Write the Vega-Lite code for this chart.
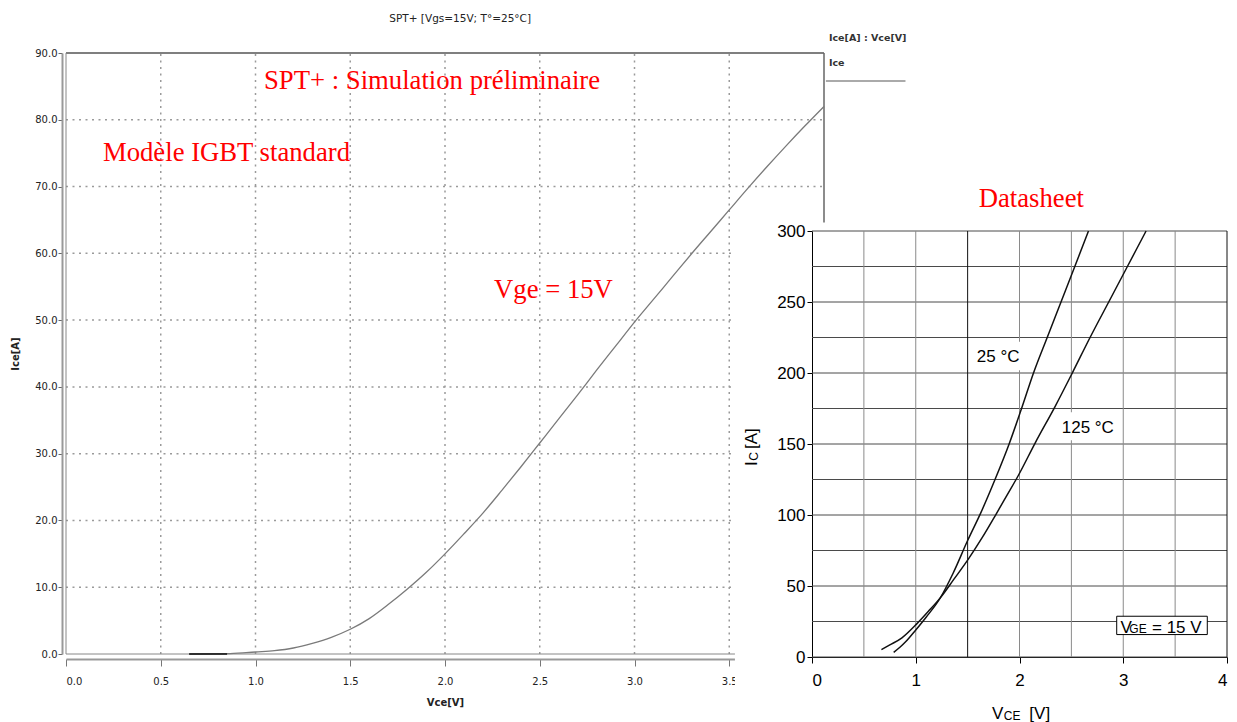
{
  "$schema": "https://vega.github.io/schema/vega-lite/v6.json",
  "background": "white",
  "padding": {"left": 10, "top": 14, "right": 0, "bottom": 0},
  "config": {
    "view": {"stroke": null},
    "font": "Liberation Sans",
    "axis": {"grid": false}
  },
  "bounds": "flush",
  "spacing": 0,
  "hconcat": [
    {
      "width": 746,
      "height": 601,
      "layer": [
        {
          "data": {"values": [{"I": 10}, {"I": 20}, {"I": 30}, {"I": 40}, {"I": 50}, {"I": 60}, {"I": 70}, {"I": 80}]},
          "mark": {"type": "rule", "stroke": "#9a9a9a", "strokeWidth": 1.5, "strokeDash": [2, 4.5]},
          "encoding": {
            "y": {"field": "I", "type": "quantitative", "scale": {"domain": [0, 90], "nice": false},
              "axis": {"title": "Ice[A]", "values": [0, 10, 20, 30, 40, 50, 60, 70, 80, 90], "format": ".1f", "offset": 4, "tickSize": 4, "tickColor": "#666", "domainColor": "#999", "domainWidth": 2, "labelFont": "DejaVu Sans", "labelFontSize": 10, "labelColor": "#222", "labelPadding": 1, "titleFont": "DejaVu Sans", "titleFontSize": 10, "titleFontWeight": "bold", "titleColor": "#222", "titlePadding": 14}},
            "x": {"datum": 0, "type": "quantitative", "scale": {"domain": [0, 4], "range": [0, 758], "nice": false},
              "axis": {"title": "Vce[V]", "values": [0, 0.5, 1, 1.5, 2, 2.5, 3, 3.5], "format": ".1f", "offset": 5, "tickSize": 7, "tickColor": "#777", "domainColor": "#999", "domainWidth": 2, "labelFont": "DejaVu Sans", "labelFontSize": 10, "labelColor": "#222", "labelPadding": 10, "titleFont": "DejaVu Sans", "titleFontSize": 10, "titleFontWeight": "bold", "titleColor": "#222", "titlePadding": 11}},
            "x2": {"datum": 4}
          }
        },
        {
          "data": {"values": [{"V": 0.5}, {"V": 1}, {"V": 1.5}, {"V": 2}, {"V": 2.5}, {"V": 3}, {"V": 3.5}]},
          "mark": {"type": "rule", "stroke": "#9a9a9a", "strokeWidth": 1.5, "strokeDash": [2, 4.5]},
          "encoding": {
            "x": {"field": "V", "type": "quantitative"},
            "y": {"datum": 0},
            "y2": {"datum": 90}
          }
        },
        {
          "data": {"values": [{"edge": "top"}]},
          "mark": {"type": "rule", "stroke": "#555", "strokeWidth": 1.5},
          "encoding": {"y": {"datum": 90}, "x": {"datum": 0}, "x2": {"datum": 4}}
        },
        {
          "data": {"values": [{"edge": "bottom"}]},
          "mark": {"type": "rule", "stroke": "#888", "strokeWidth": 1},
          "encoding": {"y": {"datum": 0}, "x": {"datum": 0}, "x2": {"datum": 4}}
        },
        {
          "data": {"values": [{"edge": "right"}]},
          "mark": {"type": "rule", "stroke": "#666", "strokeWidth": 1.5},
          "encoding": {"x": {"datum": 4}, "y": {"datum": 0}, "y2": {"datum": 90}}
        },
        {
          "data": {"values": [{"edge": "left"}]},
          "mark": {"type": "rule", "stroke": "#888", "strokeWidth": 1},
          "encoding": {"x": {"datum": 0}, "y": {"datum": 0}, "y2": {"datum": 90}}
        },
        {
          "data": {"values": [
            {"V": 0.65, "I": 0}, {"V": 0.85, "I": 0.05}, {"V": 0.95, "I": 0.2}, {"V": 1.0, "I": 0.3},
            {"V": 1.1, "I": 0.5}, {"V": 1.2, "I": 0.9}, {"V": 1.3, "I": 1.6}, {"V": 1.4, "I": 2.5},
            {"V": 1.5, "I": 3.7}, {"V": 1.6, "I": 5.3}, {"V": 1.7, "I": 7.4}, {"V": 1.8, "I": 9.7},
            {"V": 1.9, "I": 12.2}, {"V": 2.0, "I": 15.0}, {"V": 2.1, "I": 18.0}, {"V": 2.2, "I": 21.1},
            {"V": 2.3, "I": 24.5}, {"V": 2.4, "I": 28.0}, {"V": 2.5, "I": 31.6}, {"V": 2.6, "I": 35.2},
            {"V": 2.7, "I": 38.8}, {"V": 2.8, "I": 42.5}, {"V": 2.9, "I": 46.1}, {"V": 3.0, "I": 49.7},
            {"V": 3.1, "I": 53.1}, {"V": 3.2, "I": 56.5}, {"V": 3.3, "I": 59.9}, {"V": 3.4, "I": 63.2},
            {"V": 3.5, "I": 66.5}, {"V": 3.6, "I": 69.8}, {"V": 3.7, "I": 73.0}, {"V": 3.8, "I": 76.1},
            {"V": 3.9, "I": 79.1}, {"V": 4.0, "I": 82.0}
          ]},
          "mark": {"type": "line", "stroke": "#7a7a7a", "strokeWidth": 1.3, "interpolate": "monotone"},
          "encoding": {
            "x": {"field": "V", "type": "quantitative"},
            "y": {"field": "I", "type": "quantitative"}
          }
        },
        {
          "data": {"values": [{"V": 0.65, "I": 0}, {"V": 0.85, "I": 0}]},
          "mark": {"type": "line", "stroke": "#111", "strokeWidth": 1.5},
          "encoding": {
            "x": {"field": "V", "type": "quantitative"},
            "y": {"field": "I", "type": "quantitative"}
          }
        },
        {
          "data": {"values": [{"V0": 3.53, "V1": 4.3, "I0": -7, "I1": 64.6}]},
          "mark": {"type": "rect", "fill": "white", "stroke": null},
          "encoding": {
            "x": {"field": "V0", "type": "quantitative"},
            "x2": {"field": "V1"},
            "y": {"field": "I0", "type": "quantitative"},
            "y2": {"field": "I1"}
          }
        },
        {
          "data": {"values": [
            {"V": 1.045, "I": 84.6, "t": "SPT+ : Simulation préliminaire"},
            {"V": 0.195, "I": 73.9, "t": "Modèle IGBT standard"},
            {"V": 2.259, "I": 53.3, "t": "Vge = 15V"}
          ]},
          "mark": {"type": "text", "font": "Liberation Serif", "fontSize": 26.7, "color": "#ff0000", "align": "left", "baseline": "alphabetic"},
          "encoding": {
            "x": {"field": "V", "type": "quantitative"},
            "y": {"field": "I", "type": "quantitative"},
            "text": {"field": "t"}
          }
        },
        {
          "data": {"values": [{"V": 2.08, "I": 94.6, "t": "SPT+ [Vgs=15V; T°=25°C]"}]},
          "mark": {"type": "text", "font": "DejaVu Sans", "fontSize": 10.5, "color": "#222", "align": "center", "baseline": "alphabetic"},
          "encoding": {
            "x": {"field": "V", "type": "quantitative"},
            "y": {"field": "I", "type": "quantitative"},
            "text": {"field": "t"}
          }
        },
        {
          "data": {"values": [
            {"V": 4.026, "I": 91.8, "t": "Ice[A] : Vce[V]"},
            {"V": 4.026, "I": 88.0, "t": "Ice"}
          ]},
          "mark": {"type": "text", "font": "DejaVu Sans", "fontSize": 9.5, "fontWeight": "bold", "color": "#333", "align": "left", "baseline": "alphabetic"},
          "encoding": {
            "x": {"field": "V", "type": "quantitative"},
            "y": {"field": "I", "type": "quantitative"},
            "text": {"field": "t"}
          }
        },
        {
          "data": {"values": [{"V0": 4.01, "V1": 4.43, "I": 85.8}]},
          "mark": {"type": "rule", "stroke": "#aaa", "strokeWidth": 2},
          "encoding": {
            "x": {"field": "V0", "type": "quantitative"},
            "x2": {"field": "V1"},
            "y": {"field": "I", "type": "quantitative"}
          }
        }
      ]
    },
    {
      "width": 415,
      "height": 604,
      "layer": [
        {
          "data": {"values": [{"I": 0}, {"I": 25}, {"I": 50}, {"I": 75}, {"I": 100}, {"I": 125}, {"I": 150}, {"I": 175}, {"I": 200}, {"I": 225}, {"I": 250}, {"I": 275}, {"I": 300}]},
          "mark": {"type": "rule", "stroke": "#4a4a4a", "strokeWidth": 1},
          "encoding": {
            "y": {"field": "I", "type": "quantitative", "scale": {"domain": [0, 300], "range": [604, 178], "nice": false},
              "axis": {"title": null, "values": [0, 50, 100, 150, 200, 250, 300], "format": "d", "tickSize": 5, "tickColor": "black", "domainColor": "black", "labelFontSize": 17, "labelColor": "black", "labelPadding": 2}},
            "x": {"datum": 0, "type": "quantitative", "scale": {"domain": [0, 4], "nice": false},
              "axis": {"title": null, "values": [0, 1, 2, 3, 4], "format": "d", "tickSize": 6, "tickColor": "black", "domainColor": "black", "labelFontSize": 17, "labelColor": "black", "labelPadding": 9}},
            "x2": {"datum": 4}
          }
        },
        {
          "data": {"values": [{"V": 0.5}, {"V": 1}, {"V": 1.5}, {"V": 2}, {"V": 2.5}, {"V": 3}, {"V": 3.5}, {"V": 4}]},
          "mark": {"type": "rule", "strokeWidth": 1},
          "encoding": {
            "x": {"field": "V", "type": "quantitative"},
            "y": {"datum": 0},
            "y2": {"datum": 300},
            "stroke": {"condition": {"test": "datum.V === 1.5 || datum.V === 4", "value": "#111"}, "value": "#8a8a8a"}
          }
        },
        {
          "data": {"values": [
            {"T": "25 °C", "V": 0.787, "I": 3.3}, {"T": "25 °C", "V": 0.85, "I": 7}, {"T": "25 °C", "V": 0.9, "I": 10.5},
            {"T": "25 °C", "V": 1.0, "I": 19}, {"T": "25 °C", "V": 1.1, "I": 28}, {"T": "25 °C", "V": 1.238, "I": 41.8},
            {"T": "25 °C", "V": 1.36, "I": 59}, {"T": "25 °C", "V": 1.5, "I": 82}, {"T": "25 °C", "V": 1.63, "I": 102},
            {"T": "25 °C", "V": 1.77, "I": 126}, {"T": "25 °C", "V": 1.9, "I": 150}, {"T": "25 °C", "V": 2.02, "I": 175},
            {"T": "25 °C", "V": 2.135, "I": 200}, {"T": "25 °C", "V": 2.267, "I": 225}, {"T": "25 °C", "V": 2.4, "I": 250},
            {"T": "25 °C", "V": 2.533, "I": 275}, {"T": "25 °C", "V": 2.665, "I": 300},
            {"T": "125 °C", "V": 0.669, "I": 5.2}, {"T": "125 °C", "V": 0.75, "I": 8.5}, {"T": "125 °C", "V": 0.867, "I": 13.5},
            {"T": "125 °C", "V": 1.012, "I": 23.5}, {"T": "125 °C", "V": 1.12, "I": 32}, {"T": "125 °C", "V": 1.238, "I": 41.8},
            {"T": "125 °C", "V": 1.37, "I": 55}, {"T": "125 °C", "V": 1.51, "I": 69.3}, {"T": "125 °C", "V": 1.64, "I": 84},
            {"T": "125 °C", "V": 1.768, "I": 99.8}, {"T": "125 °C", "V": 1.88, "I": 114}, {"T": "125 °C", "V": 1.99, "I": 128},
            {"T": "125 °C", "V": 2.153, "I": 151}, {"T": "125 °C", "V": 2.34, "I": 176}, {"T": "125 °C", "V": 2.506, "I": 199.6},
            {"T": "125 °C", "V": 2.68, "I": 225}, {"T": "125 °C", "V": 2.86, "I": 250}, {"T": "125 °C", "V": 3.04, "I": 275},
            {"T": "125 °C", "V": 3.22, "I": 300}
          ]},
          "mark": {"type": "line", "stroke": "#111", "strokeWidth": 1.5, "interpolate": "monotone"},
          "encoding": {
            "x": {"field": "V", "type": "quantitative"},
            "y": {"field": "I", "type": "quantitative"},
            "detail": {"field": "T"}
          }
        },
        {
          "data": {"values": [
            {"V0": 1.56, "V1": 2.05, "I0": 202, "I1": 222},
            {"V0": 2.378, "V1": 2.93, "I0": 152.6, "I1": 172.3}
          ]},
          "mark": {"type": "rect", "fill": "white", "stroke": null},
          "encoding": {
            "x": {"field": "V0", "type": "quantitative"},
            "x2": {"field": "V1"},
            "y": {"field": "I0", "type": "quantitative"},
            "y2": {"field": "I1"}
          }
        },
        {
          "data": {"values": [
            {"V": 1.588, "I": 207.7, "t": "25 °C"},
            {"V": 2.407, "I": 157.7, "t": "125 °C"}
          ]},
          "mark": {"type": "text", "fontSize": 17, "color": "black", "align": "left", "baseline": "alphabetic"},
          "encoding": {
            "x": {"field": "V", "type": "quantitative"},
            "y": {"field": "I", "type": "quantitative"},
            "text": {"field": "t"}
          }
        },
        {
          "data": {"values": [{"V0": 2.937, "V1": 3.81, "I0": 15.8, "I1": 28.7}]},
          "mark": {"type": "rect", "fill": "white", "stroke": "black", "strokeWidth": 1},
          "encoding": {
            "x": {"field": "V0", "type": "quantitative"},
            "x2": {"field": "V1"},
            "y": {"field": "I0", "type": "quantitative"},
            "y2": {"field": "I1"}
          }
        },
        {
          "data": {"values": [
            {"V": 2.973, "I": 17.2, "t": "V"},
            {"V": 3.277, "I": 17.2, "t": "= 15 V"},
            {"V": 1.735, "I": -43.7, "t": "V"},
            {"V": 2.095, "I": -43.7, "t": "[V]"}
          ]},
          "mark": {"type": "text", "fontSize": 17, "color": "black", "align": "left", "baseline": "alphabetic"},
          "encoding": {
            "x": {"field": "V", "type": "quantitative"},
            "y": {"field": "I", "type": "quantitative"},
            "text": {"field": "t"}
          }
        },
        {
          "data": {"values": [
            {"V": 3.059, "I": 16.6, "t": "GE"},
            {"V": 1.848, "I": -44.4, "t": "CE"}
          ]},
          "mark": {"type": "text", "fontSize": 12, "color": "black", "align": "left", "baseline": "alphabetic"},
          "encoding": {
            "x": {"field": "V", "type": "quantitative"},
            "y": {"field": "I", "type": "quantitative"},
            "text": {"field": "t"}
          }
        },
        {
          "data": {"values": [
            {"V": -0.53, "I": 134.5, "t": "I"},
            {"V": -0.53, "I": 146.5, "t": "[A]"}
          ]},
          "mark": {"type": "text", "fontSize": 17, "color": "black", "align": "left", "baseline": "alphabetic", "angle": 270},
          "encoding": {
            "x": {"field": "V", "type": "quantitative"},
            "y": {"field": "I", "type": "quantitative"},
            "text": {"field": "t"}
          }
        },
        {
          "data": {"values": [
            {"V": -0.52, "I": 138.2, "t": "C"}
          ]},
          "mark": {"type": "text", "fontSize": 12, "color": "black", "align": "left", "baseline": "alphabetic", "angle": 270},
          "encoding": {
            "x": {"field": "V", "type": "quantitative"},
            "y": {"field": "I", "type": "quantitative"},
            "text": {"field": "t"}
          }
        },
        {
          "data": {"values": [{"V": 1.607, "I": 317.1, "t": "Datasheet"}]},
          "mark": {"type": "text", "font": "Liberation Serif", "fontSize": 26.7, "color": "#ff0000", "align": "left", "baseline": "alphabetic"},
          "encoding": {
            "x": {"field": "V", "type": "quantitative"},
            "y": {"field": "I", "type": "quantitative"},
            "text": {"field": "t"}
          }
        }
      ]
    }
  ]
}
